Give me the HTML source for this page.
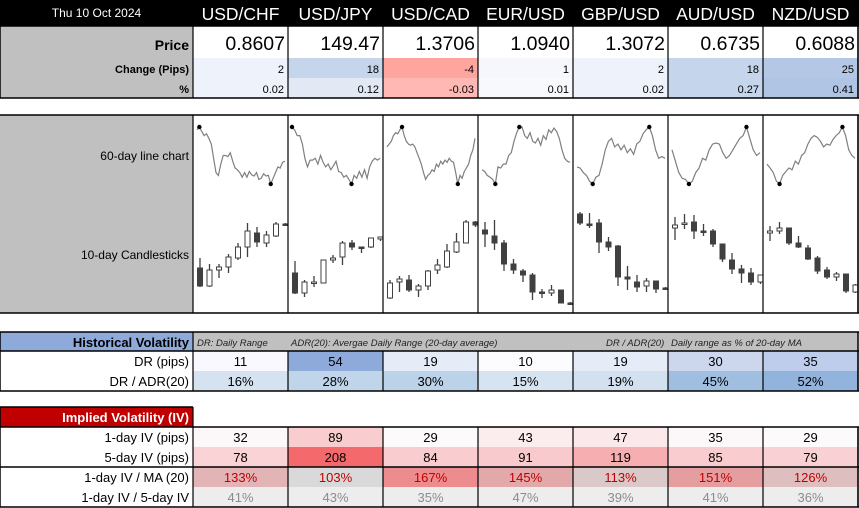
<!DOCTYPE html>
<html><head><meta charset="utf-8">
<style>
body{margin:0;width:859px;height:508px;background:#fff;font-family:"Liberation Sans",sans-serif;position:relative;overflow:hidden}
.a{position:absolute;box-sizing:border-box}
.hdr{background:#000;color:#fff}
</style></head><body>
<div class="a hdr" style="left:0;top:0;width:859px;height:26px"></div>
<div class="a" style="left:0;top:6px;width:193px;text-align:center;color:#fff;font-size:12px">Thu 10 Oct 2024</div>
<svg id="svg" class="a" style="left:0;top:0" width="859" height="508"></svg>
<script>
const pairs=["USD/CHF","USD/JPY","USD/CAD","EUR/USD","GBP/USD","AUD/USD","NZD/USD"];
const prices=["0.8607","149.47","1.3706","1.0940","1.3072","0.6735","0.6088"];
const changes=["2","18","-4","1","2","18","25"];
const pcts=["0.02","0.12","-0.03","0.01","0.02","0.27","0.41"];
const chgCol=["#eef2fa","#c5d5ec","#ffa5a0","#f5f7fc","#eef2fa","#c5d5ec","#b4c8e6"];
const pctCol=["#eef2fa","#e2e9f5","#ffb8b4","#f8f9fd","#eef2fa","#c5d5ec","#b0c4e4"];
const dr=["11","54","19","10","19","30","35"];
const drCol=["#f8f8fe","#8eaadb","#e6ecf7","#fcfcff","#e6ecf7","#ccd7ee","#bfcdec"];
const drAdr=["16%","28%","30%","15%","19%","45%","52%"];
const drAdrCol=["#d5e2f0","#c0d4ea","#bcd2e8","#d6e3f1","#d2e0ef","#a0bfe0","#92b4dc"];
const iv1=["32","89","29","43","47","35","29"];
const iv1Col=["#fcf8fa","#f9cdd0","#fdfafb","#fbecee","#fbe8ea","#fcf8fa","#fdfafb"];
const iv5=["78","208","84","91","119","85","79"];
const iv5Col=["#f9d3d6","#f4696c","#f9cdd0","#f9cacd","#f6aeb1","#f9cdd0","#f9d0d3"];
const ivMa=["133%","103%","167%","145%","113%","151%","126%"];
const ivMaCol=["#e2b4b6","#d9d9d9","#ec8c8e","#e3a8aa","#dbc8c9","#e59ea0","#dfbebf"];
const ivRatio=["41%","43%","35%","47%","39%","41%","36%"];
const lines=[
[95,100,92,85,88,80,70,45,20,15,35,50,50,48,55,40,28,25,20,12,20,12,22,16,14,20,8,10,18,14,15,0,10,20,30,28,38,40],
[100,95,85,85,70,45,30,42,42,45,35,50,38,30,35,25,32,40,22,20,12,15,8,0,15,10,22,12,25,10,30,40,45,42,45],
[65,70,75,85,90,88,95,100,85,75,70,68,70,65,55,45,35,20,8,15,18,25,22,35,30,40,35,42,38,45,40,38,20,0,15,10,22,28,35,50,60,80],
[25,22,15,12,8,0,30,28,35,35,50,55,75,90,100,100,85,80,90,75,72,80,68,85,78,95,90,98,92,80,60,45,40,38],
[30,28,20,15,5,0,12,15,35,60,75,80,65,70,60,68,55,62,52,70,75,88,95,100,85,60,45,48,45],
[60,40,20,10,8,0,5,20,28,45,42,60,70,72,70,55,45,50,60,70,80,85,100,80,60,50,55],
[35,28,20,5,0,15,22,28,25,40,35,50,55,70,80,85,82,75,65,70,68,78,85,90,100,85,60,50,45]];
const candles=[
[[37,19,47,18],[19,35,41,18],[35,38,41,27],[38,48,51,32],[47,58,62,45],[58,74,82,48],[72,63,78,58],[62,70,74,58],[69,81,83,68],[81,80,82,79]],
[[32,12,44,11],[12,23,25,8],[22,23,29,18],[22,45,45,22],[45,47,50,42],[48,62,64,40],[62,58,65,55],[58,57,58,52],[58,67,67,57],[66,68,68,64]],
[[7,22,25,6],[23,26,29,13],[25,15,30,13],[15,19,21,8],[19,34,35,15],[35,40,46,31],[38,54,61,37],[53,63,72,52],[62,83,85,62],[83,80,84,78]],
[[75,71,83,58],[69,62,85,55],[62,41,65,34],[41,35,46,31],[34,30,36,23],[30,13,32,5],[13,12,16,7],[12,15,20,9],[15,2,15,2],[2,1,3,1]],
[[91,82,93,80],[81,80,92,77],[82,63,86,52],[63,58,68,54],[59,28,60,19],[28,26,39,15],[23,18,30,13],[19,24,27,13],[24,16,24,12],[17,16,18,15]],
[[77,80,88,65],[81,82,91,76],[83,74,90,66],[74,73,81,69],[74,61,76,58],[61,46,61,43],[45,36,52,31],[36,32,40,22],[32,23,37,20],[23,30,30,21]],
[[72,74,79,64],[74,77,83,71],[77,62,77,60],[62,58,69,57],[57,46,60,45],[47,34,49,31],[35,28,38,26],[28,31,33,24],[31,14,31,12],[13,20,21,12]]];

const NS="http://www.w3.org/2000/svg";
const svg=document.getElementById('svg');
const colX=i=>193+i*95;
function el(tag,at,parent){const e=document.createElementNS(NS,tag);for(const k in at)e.setAttribute(k,at[k]);(parent||svg).appendChild(e);return e;}
function rect(x,y,w,h,f){return el('rect',{x,y,width:w,height:h,fill:f});}
function txt(s,x,y,o){const t=el('text',Object.assign({x,y,'font-family':'Liberation Sans, sans-serif','font-size':13,fill:'#000'},o||{}));t.textContent=s;return t;}
function ln(x1,y1,x2,y2,c,w){return el('line',{x1,y1,x2,y2,stroke:c||'#000','stroke-width':w||1.5});}

pairs.forEach((p,i)=>{const t=txt(p,colX(i)+47.5,20,{fill:'#fff','font-size':17.5,'text-anchor':'middle'});
});
rect(0,26,193,72,'#c0c0c0');
let t=txt('Price',189,50,{'font-weight':'bold','text-anchor':'end','font-size':14});

txt('Change (Pips)',189,73,{'font-weight':'bold','text-anchor':'end','font-size':11});
txt('%',189,93,{'font-weight':'bold','text-anchor':'end','font-size':11});
pairs.forEach((p,i)=>{
 const x=colX(i);
 rect(x,58,95,20,chgCol[i]);rect(x,78,95,20,pctCol[i]);
 const a=txt(prices[i],x+92,50,{'text-anchor':'end','font-size':19.5});
 
 txt(changes[i],x+91,73,{'text-anchor':'end','font-size':11});
 txt(pcts[i],x+91,93,{'text-anchor':'end','font-size':11});
});
ln(0,26,859,26);ln(0,98,859,98);ln(0,26,0,98);ln(858,26,858,98);
for(let i=0;i<=7;i++)ln(colX(i),26,colX(i),98,'#000',1.2);

rect(0,115,193,198,'#c0c0c0');
txt('60-day line chart',189,160,{'text-anchor':'end','font-size':12});
txt('10-day Candlesticks',189,259,{'text-anchor':'end','font-size':12});
const lyTop=127,lyBot=184;
const lineY=v=>lyBot-(v/100)*(lyBot-lyTop);
const cY=v=>305-v;
lines.forEach((d,i)=>{
 const x0=colX(i)+4,x1=colX(i)+92;
 const lx=k=>x0+k*(x1-x0)/(d.length-1);
 const pts=d.map((v,k)=>lx(k).toFixed(1)+','+lineY(v).toFixed(1)).join(' ');
 const pl=el('polyline',{points:pts,fill:'none',stroke:'#7f7f7f','stroke-width':1.2});
 
 
 const mx=d.indexOf(Math.max(...d)),mn=d.indexOf(Math.min(...d));
 el('circle',{cx:lx(mx),cy:lineY(d[mx]),r:2.2,fill:'#000'});
 el('circle',{cx:lx(mn),cy:lineY(d[mn]),r:2.2,fill:'#000'});
 candles[i].forEach((c,k)=>{
  const cx=colX(i)+7+k*9.5;
  const [o,cl,h,l]=c;
  const g=el('g',{});
  
  
  el('line',{x1:cx,y1:cY(h),x2:cx,y2:cY(l),stroke:'#404040','stroke-width':1.3},g);
  const top=cY(Math.max(o,cl)),hh=Math.max(1.5,Math.abs(o-cl));
  el('rect',{x:cx-2.5,y:top,width:5,height:hh,fill:cl<o?'#404040':'#fff',stroke:'#404040','stroke-width':1},g);
 });
});
ln(0,115,859,115);ln(0,313,859,313);ln(858,115,858,313);
for(let i=0;i<=7;i++)ln(colX(i),115,colX(i),313,'#000',1.2);

rect(0,332,193,19,'#8eaadb');rect(193,332,665,19,'#c0c0c0');
t=txt('Historical Volatility',189,347,{'font-weight':'bold','text-anchor':'end','font-size':13});

const it={'font-style':'italic','font-size':9.5,fill:'#222'};
txt('DR: Daily Range',197,346,it);txt('ADR(20): Avergae Daily Range (20-day average)',291,346,it);
txt('DR / ADR(20)',606,346,it);txt('Daily range as % of  20-day MA',671,346,it);
txt('DR (pips)',189,366,{'text-anchor':'end'});txt('DR / ADR(20)',189,386,{'text-anchor':'end'});
pairs.forEach((p,i)=>{const x=colX(i);
 rect(x,351,95,20,drCol[i]);rect(x,371,95,20,drAdrCol[i]);
 txt(dr[i],x+47.5,366,{'text-anchor':'middle'});txt(drAdr[i],x+47.5,386,{'text-anchor':'middle'});});
ln(0,332,859,332);ln(0,351,859,351);ln(0,391,859,391);ln(0,332,0,391);ln(858,332,858,391);
for(let i=0;i<=7;i++)ln(colX(i),i==0?332:351,colX(i),391,'#000',1.2);

rect(0,407,193,20,'#c00000');
t=txt('Implied Volatility (IV)',189,422,{'font-weight':'bold','text-anchor':'end','font-size':13,fill:'#fff'});

const rowsL=['1-day IV (pips)','5-day IV (pips)','1-day IV / MA (20)','1-day IV / 5-day IV'];
rowsL.forEach((s,k)=>txt(s,189,442+k*20,{'text-anchor':'end'}));
pairs.forEach((p,i)=>{const x=colX(i),m=x+47.5;
 rect(x,427,95,20,iv1Col[i]);rect(x,447,95,20,iv5Col[i]);rect(x,467,95,20,ivMaCol[i]);rect(x,487,95,20,'#ededed');
 txt(iv1[i],m,442,{'text-anchor':'middle'});txt(iv5[i],m,462,{'text-anchor':'middle'});
 txt(ivMa[i],m,482,{'text-anchor':'middle',fill:'#c00000'});txt(ivRatio[i],m,502,{'text-anchor':'middle',fill:'#8c8c8c'});});
ln(0,407,193,407);ln(0,427,859,427);ln(0,467,859,467);ln(0,507,859,507);ln(0,407,0,507);ln(858,427,858,507);
for(let i=0;i<=7;i++)ln(colX(i),i==0?407:427,colX(i),507,'#000',1.2);
</script>
</body></html>
